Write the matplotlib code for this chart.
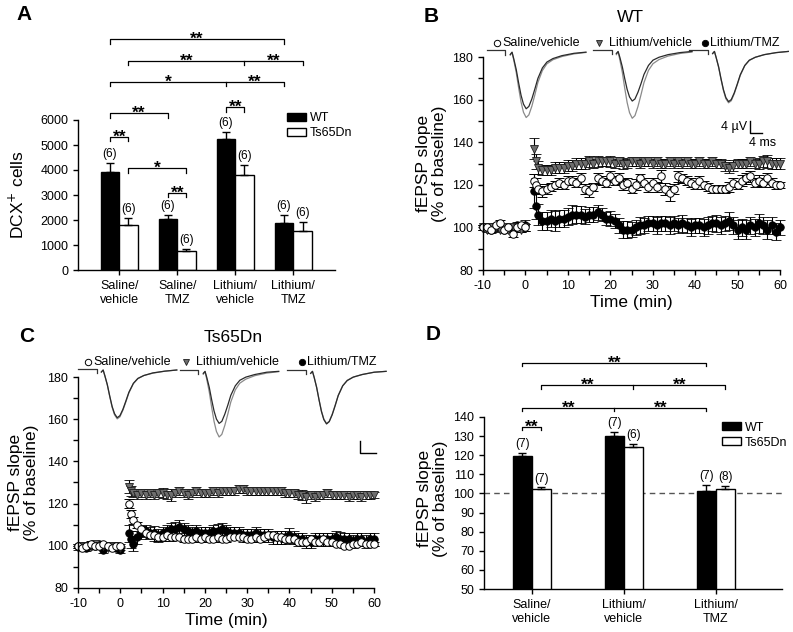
import matplotlib.pyplot as plt
import numpy as np

plt.rcParams['font.family'] = ['Liberation Sans', 'DejaVu Sans']
plt.rcParams['axes.linewidth'] = 1.0
plt.rcParams['axes.unicode_minus'] = False

# ---------------- Panel A data: DCX+ cells ----------------
groups_a = ["Saline/\nvehicle", "Saline/\nTMZ", "Lithium/\nvehicle", "Lithium/\nTMZ"]
wt_a = [3930, 2040, 5230, 1890]
wt_a_err = [340, 160, 280, 310]
ts_a = [1800, 770, 3800, 1570]
ts_a_err = [270, 60, 400, 360]
n_wt_a = [6, 6, 6, 6]
n_ts_a = [6, 6, 6, 6]

# ---------------- Panel D data: fEPSP slope ----------------
groups_d = ["Saline/\nvehicle", "Lithium/\nvehicle", "Lithium/\nTMZ"]
wt_d = [119.8, 130.0, 101.5]
wt_d_err = [1.4, 2.2, 3.0]
ts_d = [102.4, 124.5, 102.5]
ts_d_err = [0.8, 1.5, 1.4]
n_wt_d = [7, 7, 7]
n_ts_d = [7, 6, 8]

# ---------------- Time course data (B: WT, C: Ts65Dn) ----------------
time = np.concatenate([np.arange(-10, 1), [2, 2.5], np.arange(3, 61)])

b_sal = [100, 100, 99, 101, 102, 99, 100, 97, 100, 101, 100,
         122, 120, 118, 117, 118, 119, 120, 121, 120, 122,
         122, 121, 123, 118, 117, 119, 123, 122, 121, 124,
         122, 123, 120, 121, 118, 120, 123, 121, 119, 121,
         119, 124, 118, 116, 118, 124, 123, 122, 121, 120,
         122, 120, 119, 118, 118, 118, 118, 119, 121, 120,
         122, 123, 124, 121, 122, 121, 123, 121, 120, 120]
b_sal_err = [1.0, 1.0, 1.2, 1.0, 1.5, 1.2, 1.0, 1.5, 1.2, 1.5, 1.5,
             3.0, 3.0, 2.5, 2.5, 2.5, 2.0, 2.0, 2.0, 2.0, 2.0,
             2.0, 2.0, 2.5, 2.5, 2.5, 2.0, 2.5, 2.0, 2.0, 2.5,
             2.0, 2.5, 2.5, 2.0, 2.0, 2.5, 2.0, 2.0, 2.5, 2.0,
             2.5, 3.0, 3.0, 3.5, 2.5, 2.5, 2.0, 2.0, 2.0, 2.0,
             2.0, 2.0, 2.0, 2.0, 2.0, 2.0, 2.0, 2.5, 2.0, 2.0,
             2.5, 2.5, 2.5, 2.0, 2.5, 2.0, 2.5, 2.0, 2.0, 1.5]
b_li = [100, 99, 100, 100, 99, 100, 99, 100, 100, 99, 100,
        137, 131, 128, 127, 127, 127, 128, 128, 128, 129,
        129, 130, 130, 130, 131, 130, 131, 131, 131, 131,
        130, 131, 130, 130, 131, 131, 130, 131, 131, 130,
        131, 130, 130, 131, 130, 131, 130, 131, 130, 130,
        131, 130, 130, 131, 130, 130, 129, 128, 129, 130,
        130, 130, 131, 130, 130, 131, 131, 130, 130, 130]
b_li_err = [1.0, 1.0, 1.2, 1.0, 1.0, 1.2, 1.0, 1.0, 1.2, 1.0, 1.5,
            5.0, 3.5, 3.0, 2.5, 2.5, 2.5, 2.5, 2.5, 2.5, 2.5,
            2.5, 2.5, 2.5, 2.5, 2.5, 2.0, 2.5, 2.0, 2.0, 2.5,
            2.0, 2.0, 2.5, 2.0, 2.0, 2.0, 2.0, 2.0, 2.0, 2.0,
            2.0, 2.0, 2.0, 2.0, 2.0, 2.0, 2.0, 2.0, 2.0, 2.0,
            2.0, 2.0, 2.0, 2.0, 2.0, 2.0, 2.5, 2.5, 2.5, 2.0,
            2.0, 2.0, 2.0, 2.0, 2.5, 2.5, 3.0, 2.5, 2.5, 2.5]
b_tmz = [100, 100, 99, 100, 100, 99, 100, 100, 101, 100, 101,
         117, 110, 106, 103, 103, 104, 103, 104, 104, 105,
         106, 106, 106, 105, 106, 106, 107, 106, 104, 104,
         103, 101, 99, 99, 99, 100, 101, 101, 102, 102,
         101, 102, 102, 101, 102, 101, 102, 101, 100, 101,
         101, 100, 101, 102, 102, 101, 102, 103, 101, 99,
         100, 99, 101, 100, 102, 101, 99, 101, 98, 100]
b_tmz_err = [1.0, 1.0, 1.5, 1.0, 1.5, 1.0, 1.5, 1.0, 1.5, 2.0, 2.5,
             8.0, 6.0, 5.0, 4.0, 4.0, 4.0, 4.5, 4.0, 4.0, 4.0,
             4.5, 4.0, 4.0, 3.5, 3.5, 3.5, 3.5, 3.0, 3.0, 3.5,
             3.5, 3.5, 4.0, 4.0, 3.5, 3.5, 4.0, 3.5, 3.5, 3.5,
             4.0, 3.5, 3.5, 4.0, 3.5, 3.5, 4.0, 3.5, 4.0, 3.5,
             3.5, 4.0, 4.0, 3.5, 4.0, 4.0, 3.5, 4.0, 4.0, 4.5,
             4.0, 4.5, 4.0, 4.0, 4.5, 4.0, 4.5, 4.0, 4.0, 3.5]

c_sal = [100, 99, 100, 101, 100, 100, 101, 100, 99, 100, 100,
         120, 115, 112, 110, 108, 106, 105, 105, 104, 104,
         105, 104, 104, 104, 103, 103, 103, 104, 103, 104,
         103, 103, 104, 103, 103, 104, 104, 104, 104, 103,
         103, 104, 103, 104, 105, 105, 104, 104, 103, 103,
         103, 102, 102, 102, 103, 102, 102, 103, 102, 102,
         101, 101, 100, 100, 101, 101, 102, 101, 101, 101]
c_sal_err = [1.0, 1.0, 1.0, 1.2, 1.0, 1.0, 1.0, 1.2, 1.0, 1.0, 1.0,
             2.0, 2.0, 1.5, 1.5, 1.5, 1.5, 1.5, 1.5, 1.5, 1.5,
             1.2, 1.5, 1.2, 1.2, 1.0, 1.2, 1.2, 1.0, 1.2, 1.2,
             1.0, 1.2, 1.2, 1.0, 1.2, 1.2, 1.0, 1.2, 1.0, 1.2,
             1.2, 1.0, 1.2, 1.2, 1.5, 1.2, 1.0, 1.2, 1.2, 1.0,
             1.2, 1.0, 1.2, 1.2, 1.0, 1.2, 1.2, 1.0, 1.2, 1.2,
             1.0, 1.2, 1.2, 1.0, 1.2, 1.0, 1.2, 1.2, 1.0, 1.0]
c_li = [99, 100, 100, 100, 101, 100, 100, 99, 100, 100, 99,
        128, 126, 125, 124, 125, 124, 125, 124, 125, 125,
        124, 124, 125, 126, 125, 124, 125, 126, 125, 125,
        125, 126, 125, 126, 126, 126, 126, 127, 127, 126,
        126, 126, 126, 126, 126, 126, 126, 126, 125, 125,
        125, 124, 124, 123, 124, 123, 124, 124, 125, 124,
        124, 124, 124, 123, 124, 124, 123, 124, 124, 124]
c_li_err = [1.0, 1.0, 1.2, 1.5, 1.2, 1.0, 1.0, 1.2, 1.0, 1.0, 1.0,
            3.0, 2.5, 2.0, 2.0, 2.0, 2.0, 2.0, 2.0, 2.0, 2.5,
            2.0, 3.0, 2.0, 2.0, 2.0, 2.0, 2.0, 2.0, 2.0, 2.0,
            2.0, 2.0, 2.0, 2.0, 2.0, 2.0, 2.0, 2.0, 2.0, 2.0,
            2.0, 2.0, 2.0, 2.0, 2.0, 2.0, 2.0, 2.0, 2.0, 2.0,
            2.0, 2.0, 2.5, 2.5, 2.0, 2.0, 2.0, 2.0, 2.0, 2.0,
            2.0, 2.0, 2.0, 2.0, 2.0, 2.0, 2.0, 2.0, 2.0, 1.5]
c_tmz = [100, 100, 99, 100, 100, 101, 98, 100, 100, 99, 98,
         106, 103, 101, 104, 106, 107, 106, 106, 105, 106,
         107, 108, 108, 109, 108, 107, 106, 107, 106, 106,
         106, 107, 107, 108, 107, 106, 106, 106, 105, 105,
         105, 106, 105, 105, 105, 104, 104, 104, 104, 105,
         104, 103, 103, 102, 102, 103, 103, 103, 103, 103,
         104, 103, 103, 103, 102, 103, 103, 102, 103, 103]
c_tmz_err = [1.0, 1.0, 1.5, 1.0, 1.2, 1.5, 1.5, 1.2, 1.0, 1.2, 1.5,
             4.0, 4.0, 3.5, 3.0, 3.0, 3.0, 3.0, 3.5, 3.0, 3.0,
             3.0, 3.0, 3.5, 3.0, 3.0, 3.0, 3.0, 3.0, 3.0, 3.0,
             3.0, 3.0, 3.5, 3.0, 3.0, 3.0, 3.0, 3.0, 3.0, 3.0,
             3.0, 3.0, 3.0, 3.0, 3.0, 3.0, 3.0, 3.0, 3.0, 3.5,
             3.0, 3.0, 3.0, 3.0, 3.0, 3.0, 3.0, 3.0, 3.0, 3.0,
             3.0, 3.5, 3.0, 3.0, 3.0, 3.0, 3.0, 3.0, 3.0, 3.0]

# ---------------- Representative fEPSP traces (ms, uV) ----------------
trace_ms = [7.8, 8.4, 9.0, 9.8, 10.6, 11.4, 12.2, 13.1, 14.0, 15.0,
            16.0, 17.0, 18.5, 20, 22, 25, 29, 33]
flat_ms = 6.2
artifact_uv = -1.5
b_traces = [
    ([-1.4, -0.6, -3.0, -6.6, -11.2, -15.4, -18.4, -20.0, -19.2, -16.6, -13.2, -9.6, -6.0, -4.0, -2.8, -1.8, -1.0, -0.6],
     [-1.6, -0.7, -3.5, -7.6, -12.9, -17.7, -21.2, -23.0, -22.1, -19.1, -15.2, -11.0, -6.9, -4.6, -3.2, -2.1, -1.2, -0.7]),
    ([-1.2, -0.5, -2.6, -5.8, -9.8, -13.5, -16.1, -17.5, -16.8, -14.5, -11.6, -8.4, -5.3, -3.5, -2.5, -1.6, -0.9, -0.5],
     [-1.6, -0.7, -3.5, -7.7, -13.1, -18.0, -21.5, -23.4, -22.5, -19.4, -15.4, -11.2, -7.0, -4.7, -3.3, -2.1, -1.2, -0.7]),
    ([-1.2, -0.5, -2.7, -5.8, -9.9, -13.6, -16.3, -17.7, -17.0, -14.7, -11.7, -8.5, -5.3, -3.5, -2.5, -1.6, -0.9, -0.5],
     [-1.3, -0.5, -2.7, -6.0, -10.1, -13.9, -16.7, -18.1, -17.4, -15.0, -11.9, -8.7, -5.4, -3.6, -2.5, -1.6, -0.9, -0.5]),
]
c_traces = [
    ([-1.2, -0.5, -2.6, -5.6, -9.5, -13.1, -15.6, -17.0, -16.3, -14.1, -11.2, -8.2, -5.1, -3.4, -2.4, -1.5, -0.9, -0.5],
     [-1.2, -0.5, -2.6, -5.7, -9.7, -13.4, -16.0, -17.4, -16.7, -14.4, -11.5, -8.4, -5.2, -3.5, -2.4, -1.6, -0.9, -0.5]),
    ([-1.3, -0.6, -2.8, -6.1, -10.4, -14.3, -17.1, -18.6, -17.9, -15.4, -12.3, -8.9, -5.6, -3.7, -2.6, -1.7, -0.9, -0.6],
     [-1.6, -0.7, -3.5, -7.7, -13.0, -17.9, -21.4, -23.3, -22.4, -19.3, -15.4, -11.2, -7.0, -4.7, -3.3, -2.1, -1.2, -0.7]),
    ([-1.3, -0.6, -2.8, -6.2, -10.5, -14.5, -17.3, -18.8, -18.0, -15.6, -12.4, -9.0, -5.6, -3.8, -2.6, -1.7, -0.9, -0.6],
     [-1.3, -0.6, -2.8, -6.1, -10.4, -14.3, -17.1, -18.6, -17.9, -15.4, -12.3, -8.9, -5.6, -3.7, -2.6, -1.7, -0.9, -0.6]),
]
b_trace_x0 = [-9.1, 15.9, 38.6]
b_trace_level = [183.1, 183.3, 183.3]
c_trace_x0 = [-10.0, 14.1, 39.5]
c_trace_level = [184.0, 183.5, 183.5]
MS = 0.708   # minutes of axis per ms of trace
UV = 1.37    # % units of axis per uV of trace

series_labels = ["Saline/vehicle", "Lithium/vehicle", "Lithium/TMZ"]

fig = plt.figure(figsize=(7.93, 6.32), dpi=100)
W, H = 793.0, 632.0


def px_axes(left, top, right, bottom):
    return fig.add_axes([left / W, 1 - bottom / H, (right - left) / W, (bottom - top) / H])


def bracket(ax, x1, x2, y, tick, labels, mid=None):
    xs = [x1, x1, x2, x2]
    ys = [y - tick, y, y, y - tick]
    ax.plot(xs, ys, color='black', lw=0.9, clip_on=False)
    if mid is None:
        spots = [(x1 + x2) / 2]
    else:
        ax.plot([mid, mid], [y, y - tick], color='black', lw=0.9, clip_on=False)
        spots = [(x1 + mid) / 2, (mid + x2) / 2]
    for xm, lab in zip(spots, labels):
        ax.annotate(lab, (xm, y), xytext=(0, -3.5), textcoords='offset points',
                    ha='center', va='baseline', fontsize=12.5, fontweight='bold')


def bar_panel(ax, groups, wt, wt_err, ts, ts_err, n_wt, n_ts, width):
    x = np.arange(len(groups))
    zeros = np.zeros(len(groups))
    ekw = dict(elinewidth=1, capsize=3, capthick=1, ecolor='black')
    ax.bar(x - width / 2, wt, width, color='black', edgecolor='black', lw=1,
           yerr=[zeros, wt_err], error_kw=ekw, label='WT')
    ax.bar(x + width / 2, ts, width, color='white', edgecolor='black', lw=1,
           yerr=[zeros, ts_err], error_kw=ekw, label='Ts65Dn')
    for xi, v, e, n in zip(x - width / 2, wt, wt_err, n_wt):
        ax.annotate(f"({n})", (xi, v + e), xytext=(0, 2), textcoords='offset points',
                    ha='center', va='bottom', fontsize=8.5)
    for xi, v, e, n in zip(x + width / 2, ts, ts_err, n_ts):
        ax.annotate(f"({n})", (xi, v + e), xytext=(0, 2), textcoords='offset points',
                    ha='center', va='bottom', fontsize=8.5)
    ax.set_xticks(x)
    ax.set_xticklabels(groups, fontsize=9)
    ax.spines['top'].set_visible(False)
    ax.spines['right'].set_visible(False)
    ax.tick_params(direction='out', length=3.5, width=1, labelsize=9)
    ax.legend(frameon=False, fontsize=9, handlelength=1.5, handleheight=0.6,
              borderpad=0, borderaxespad=0, handletextpad=0.3, labelspacing=0.25,
              loc='upper left')
    return x


# ---------------- A ----------------
axA = px_axes(78, 25, 335, 270)
w_a = 0.32
xa = bar_panel(axA, groups_a, wt_a, wt_a_err, ts_a, ts_a_err, n_wt_a, n_ts_a, w_a)
axA.set_xlim(-0.71, 3.72)
axA.set_ylim(0, 9800)
axA.spines['left'].set_bounds(0, 6000)
axA.set_yticks(range(0, 6001, 1000))
axA.set_ylabel("DCX$^{+}$ cells", fontsize=12.5)
axA.yaxis.set_label_coords(-0.2, 0.306)
axA.get_legend().set_bbox_to_anchor((0.813, 0.645))
wa = xa - w_a / 2
ta = xa + w_a / 2
tk = 170
bracket(axA, wa[0], ta[0], 5333, tk, ["**"])
bracket(axA, wa[0], wa[1], 6267, tk, ["**"])
bracket(axA, ta[0], ta[1], 4067, tk, ["*"])
bracket(axA, wa[1], ta[1], 3093, tk, ["**"])
bracket(axA, wa[2], ta[2], 6507, tk, ["**"])
bracket(axA, wa[0], wa[3], 7533, tk, ["*", "**"], mid=wa[2])
bracket(axA, ta[0], ta[3], 8360, tk, ["**", "**"], mid=ta[2])
bracket(axA, wa[0], wa[3], 9227, tk, ["**"])

# ---------------- D ----------------
axD = px_axes(484, 350, 782, 589)
w_d = 0.205
xd = bar_panel(axD, groups_d, wt_d, wt_d_err, ts_d, ts_d_err, n_wt_d, n_ts_d, w_d)
axD.axhline(100, color='#555555', lw=1, ls=(0, (4, 3)), zorder=0)
axD.set_xlim(-0.52, 2.72)
axD.set_ylim(50, 175)
axD.spines['left'].set_bounds(50, 140)
axD.set_yticks(range(50, 141, 10))
axD.set_ylabel("fEPSP slope\n(% of baseline)", fontsize=12.5, linespacing=1.1)
axD.yaxis.set_label_coords(-0.121, 0.377)
axD.get_legend().set_bbox_to_anchor((0.799, 0.70))
wd = xd - w_d / 2
td = xd + w_d / 2
tk = 1.75
bracket(axD, wd[0], td[0], 134.8, tk, ["**"])
bracket(axD, wd[0], wd[2], 144.9, tk, ["**", "**"], mid=wd[1])
bracket(axD, td[0], td[2], 156.6, tk, ["**", "**"], mid=td[1])
bracket(axD, wd[0], wd[2], 168.3, tk, ["**"])


# ---------------- B / C time courses ----------------
def time_panel(ax, sal, sal_err, li, li_err, tmz, tmz_err, x0s, levels, traces,
               legend_pos, scalebar):
    ekw = dict(ecolor='black', elinewidth=0.8, capsize=3.5, capthick=0.8, ls='none')
    artists = []
    artists.append(ax.errorbar(time, tmz, yerr=tmz_err, fmt='o', ms=5.4, mfc='black',
                               mec='black', mew=0.6, **ekw))
    artists.append(ax.errorbar(time, li, yerr=li_err, fmt='v', ms=5.8, mfc='#6e6e6e',
                               mec='#1e1e1e', mew=0.6, **ekw))
    artists.append(ax.errorbar(time, sal, yerr=sal_err, fmt='o', ms=5.4, mfc='white',
                               mec='black', mew=0.7, **ekw))
    for cont in artists:
        for a in cont.get_children():
            a.set_clip_on(False)

    for x0, lev, (pre, post) in zip(x0s, levels, traces):
        ax.plot([x0, x0 + flat_ms * MS, x0 + flat_ms * MS],
                [lev, lev, lev + artifact_uv * UV], color='#333333', lw=0.9, clip_on=False)
        xs = x0 + np.array(trace_ms) * MS
        ax.plot(xs, lev + np.array(post) * UV, color='#8a8a8a', lw=0.9, clip_on=False)
        ax.plot(xs, lev + np.array(pre) * UV, color='#2a2a2a', lw=0.9, clip_on=False)

    # legend row above the traces
    styles = [dict(marker='o', mfc='white', mec='black', ms=4.6, mew=0.7),
              dict(marker='v', mfc='#6e6e6e', mec='#1e1e1e', ms=5.0, mew=0.6),
              dict(marker='o', mfc='black', mec='black', ms=4.6, mew=0.6)]
    y_leg = legend_pos[0]
    for (mx, tx), lab, st in zip(legend_pos[1], series_labels, styles):
        ax.plot([mx], [y_leg], ls='none', clip_on=False, **st)
        ax.text(tx, y_leg, lab, ha='left', va='center', fontsize=9)

    # scale bar
    sx, sy, sv, sh = scalebar
    ax.plot([sx, sx, sx + sh * MS], [sy + sv * UV, sy, sy], color='black', lw=1, clip_on=False)

    ax.set_xlim(-10, 60)
    ax.set_ylim(80, 180)
    ax.set_xticks(range(-10, 61, 10))
    ax.set_xticks(range(-5, 60, 10), minor=True)
    ax.set_yticks(range(80, 181, 20))
    ax.set_yticks(range(90, 180, 20), minor=True)
    ax.spines['top'].set_visible(False)
    ax.spines['right'].set_visible(False)
    ax.tick_params(which='both', direction='out', length=3.5, width=1, labelsize=9)
    ax.set_xlabel("Time (min)", fontsize=12.5, labelpad=2)
    ax.set_ylabel("fEPSP slope\n(% of baseline)", fontsize=12.5, linespacing=1.1)


axB = px_axes(483, 57, 780, 270)
time_panel(axB, b_sal, b_sal_err, b_li, b_li_err, b_tmz, b_tmz_err,
           b_trace_x0, b_trace_level, b_traces,
           (186.7, [(-6.7, -5.4), (17.4, 19.8), (42.4, 43.6)]),
           (52.9, 144.3, 4, 4))
axB.yaxis.set_label_coords(-0.121, 0.5)
axB.text(52.3, 147.2, "4 \u00b5V", ha='right', va='center', fontsize=9)
axB.text(55.8, 139.6, "4 ms", ha='center', va='center', fontsize=9)

axC = px_axes(78, 377, 374, 588)
time_panel(axC, c_sal, c_sal_err, c_li, c_li_err, c_tmz, c_tmz_err,
           c_trace_x0, c_trace_level, c_traces,
           (187.1, [(-7.6, -6.3), (15.5, 18.0), (43.0, 44.2)]),
           (56.7, 143.8, 4.4, 5.4))
axC.yaxis.set_label_coords(-0.132, 0.5)

# titles and panel letters
fig.text(630 / W, 1 - 17.5 / H, "WT", ha='center', va='center', fontsize=12.5)
fig.text(233 / W, 1 - 337.5 / H, "Ts65Dn", ha='center', va='center', fontsize=12.5)
for lab, (px, py) in zip("ABCD", [(24, 15), (431, 17), (27, 337), (433, 334)]):
    fig.text(px / W, 1 - py / H, lab, ha='center', va='center', fontsize=15, fontweight='bold')

fig.savefig("out.png", dpi=100)
